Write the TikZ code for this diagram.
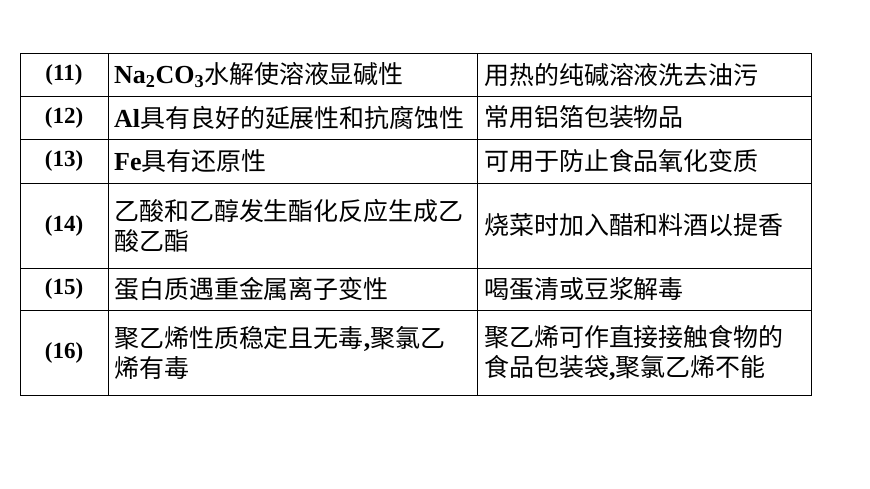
\documentclass[tikz,border=0pt]{standalone}
\usepackage{fontspec}
\setmainfont{Liberation Serif}
\newfontfamily\cjk{Noto Sans CJK SC}[Scale=0.96]
\begin{document}
\begin{tikzpicture}[x=1pt,y=-1pt,
  num/.style={inner sep=0pt,font=\fontsize{23}{23}\selectfont\bfseries},
  txt/.style={anchor=west,align=left,inner sep=0pt,font=\fontsize{26}{30}\selectfont}]
\useasboundingbox (0,0) rectangle (870,489);
\draw[line width=1pt] (20,54) rectangle (811,395);
\foreach \y in {96,139,183,268,310} \draw[line width=0.8pt] (20,\y) -- (811,\y);
\foreach \x in {108,477} \draw[line width=0.8pt] (\x,54) -- (\x,395);
\node[num] (n11) at (64,75) {(11)};
\node[num] (n12) at (64,117.5) {(12)};
\node[num] (n13) at (64,161) {(13)};
\node[num] (n14) at (64,225.5) {(14)};
\node[num] (n15) at (64,289) {(15)};
\node[num] (n16) at (64,352.5) {(16)};
\node[txt] (a11) at (114,75) {\textbf{Na\textsubscript{2}CO\textsubscript{3}}{\cjk 水解使溶液显碱性}};
\node[txt] (a12) at (114,117.5) {\textbf{Al}{\cjk 具有良好的延展性和抗腐蚀性}};
\node[txt] (a13) at (114,161) {\textbf{Fe}{\cjk 具有还原性}};
\node[txt] (a14) at (114,225.5) {\cjk 乙酸和乙醇发生酯化反应生成乙\\\cjk 酸乙酯};
\node[txt] (a15) at (114,289) {\cjk 蛋白质遇重金属离子变性};
\node[txt] (a16) at (114,352.5) {{\cjk 聚乙烯性质稳定且无毒}\textbf{,}{\cjk 聚氯乙}\\\cjk 烯有毒};
\node[txt] (b11) at (484,75) {\cjk 用热的纯碱溶液洗去油污};
\node[txt] (b12) at (484,117.5) {\cjk 常用铝箔包装物品};
\node[txt] (b13) at (484,161) {\cjk 可用于防止食品氧化变质};
\node[txt] (b14) at (484,225.5) {\cjk 烧菜时加入醋和料酒以提香};
\node[txt] (b15) at (484,289) {\cjk 喝蛋清或豆浆解毒};
\node[txt] (b16) at (484,352.5) {{\cjk 聚乙烯可作直接接触食物的}\\{\cjk 食品包装袋}\textbf{,}{\cjk 聚氯乙烯不能}};
\end{tikzpicture}
\end{document}
